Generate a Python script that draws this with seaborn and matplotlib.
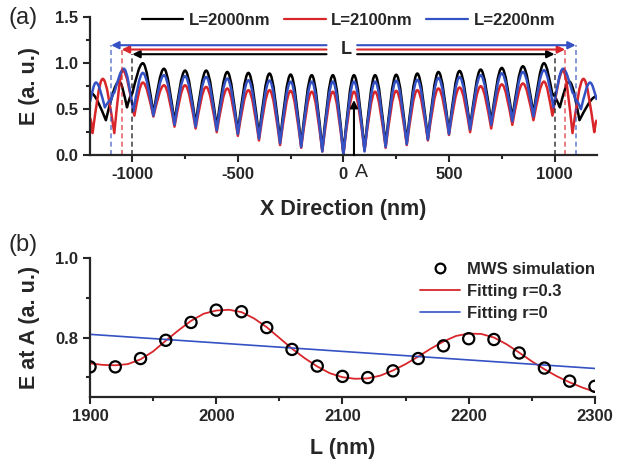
import matplotlib
matplotlib.use('Agg')
import matplotlib.pyplot as plt
import seaborn as sns
import pandas as pd
from matplotlib.ticker import MultipleLocator, FormatStrFormatter
from matplotlib.lines import Line2D
from matplotlib.path import Path
from matplotlib.patches import PathPatch

sns.set_style('ticks')
plt.rcParams['font.family'] = ['Liberation Sans', 'DejaVu Sans']
plt.rcParams['font.weight'] = 'bold'
plt.rcParams['axes.labelweight'] = 'bold'
plt.rcParams['axes.unicode_minus'] = False

# ---------------- panel (a) data: field along x (peaks/troughs)
lengths = [2000, 2100, 2200]
names = ['L=2000nm', 'L=2100nm', 'L=2200nm']
colors = ['#000000', '#d8262b', '#3552c4']

x_inner = list(range(-950, 951, 50))   # peak at -950, trough at -900, ...

black_inner = [1.00, 0.45, 0.94, 0.36, 0.92, 0.34, 0.92, 0.30, 0.905, 0.25,
               0.895, 0.21, 0.888, 0.16, 0.877, 0.11, 0.87, 0.06, 0.87, 0.02,
               0.87, 0.06, 0.87, 0.11, 0.875, 0.14, 0.888, 0.18, 0.905, 0.25,
               0.916, 0.30, 0.931, 0.36, 0.949, 0.40, 0.967, 0.45, 1.00]
red_inner = [0.79, 0.42, 0.76, 0.31, 0.76, 0.29, 0.742, 0.25, 0.725, 0.21,
             0.707, 0.16, 0.707, 0.11, 0.70, 0.08, 0.69, 0.04, 0.69, 0.01,
             0.69, 0.05, 0.69, 0.08, 0.70, 0.11, 0.707, 0.16, 0.725, 0.22,
             0.736, 0.25, 0.75, 0.29, 0.77, 0.33, 0.78, 0.38, 0.80]
blue_inner = [0.895, 0.43, 0.87, 0.33, 0.86, 0.31, 0.851, 0.27, 0.833, 0.23,
              0.815, 0.18, 0.812, 0.13, 0.80, 0.09, 0.80, 0.04, 0.80, 0.00,
              0.80, 0.04, 0.80, 0.09, 0.81, 0.12, 0.82, 0.17, 0.84, 0.23,
              0.85, 0.28, 0.87, 0.33, 0.89, 0.37, 0.905, 0.42, 0.925]

black_left_x = [-1200, -1125, -1062, -1025, -1000]
black_left_y = [0.68, 0.38, 0.80, 0.52, 0.67]
black_right_x = [990, 1025, 1070, 1118, 1200]
black_right_y = [0.66, 0.52, 0.80, 0.38, 0.64]

red_left_x = [-1200, -1188, -1140, -1085, -1045, -990]
red_left_y = [0.40, 0.24, 0.83, 0.24, 0.92, 0.43]
red_right_x = [990, 1040, 1085, 1137, 1188, 1200]
red_right_y = [0.43, 0.92, 0.24, 0.83, 0.25, 0.38]

blue_left_x = [-1200, -1172, -1130, -1100, -1085, -1040, -995]
blue_left_y = [0.58, 0.79, 0.52, 0.60, 0.68, 0.94, 0.48]
blue_right_x = [995, 1040, 1085, 1100, 1125, 1168, 1200]
blue_right_y = [0.52, 0.94, 0.68, 0.60, 0.50, 0.79, 0.60]

# ---------------- panel (b) data
L_sim = list(range(1900, 2301, 20))
E_sim = [0.726, 0.726, 0.747, 0.793, 0.838, 0.869, 0.865, 0.825, 0.770, 0.728,
         0.702, 0.699, 0.716, 0.747, 0.779, 0.797, 0.795, 0.761, 0.723, 0.690, 0.677]

L_fit = list(range(1900, 2301, 10))
E_fit03 = [0.735, 0.731, 0.730, 0.733, 0.745, 0.765, 0.792, 0.818, 0.842, 0.860,
           0.868, 0.870, 0.864, 0.848, 0.826, 0.799, 0.772, 0.748, 0.727, 0.710,
           0.700, 0.696, 0.697, 0.704, 0.717, 0.733, 0.752, 0.772, 0.790, 0.804,
           0.810, 0.809, 0.800, 0.783, 0.762, 0.740, 0.720, 0.702, 0.687, 0.674, 0.663]
L_lin = [1900, 2300]
E_fit0 = [0.808, 0.722]

curves = [
    (black_left_x + x_inner + black_right_x, black_left_y + black_inner + black_right_y),
    (red_left_x + x_inner + red_right_x, red_left_y + red_inner + red_right_y),
    (blue_left_x + x_inner + blue_right_x, blue_left_y + blue_inner + blue_right_y),
]
df_a = pd.concat([pd.DataFrame({'x': xs, 'E': ys, 'curve': n})
                  for n, (xs, ys) in zip(names, curves)], ignore_index=True)


def wave_path(xs, ys, k=0.45):
    # bezier segments between the extrema: sharp at the low end, round at the top
    verts = [(xs[0], ys[0])]
    codes = [Path.MOVETO]
    for x0, y0, x1, y1 in zip(xs[:-1], ys[:-1], xs[1:], ys[1:]):
        dx, dy = x1 - x0, y1 - y0
        if dy >= 0:
            c1, c2 = (x0 + dx / 3, y0 + dy * k), (x0 + 2 * dx / 3, y1)
        else:
            c1, c2 = (x0 + dx / 3, y0), (x0 + 2 * dx / 3, y1 - dy * k)
        verts += [c1, c2, (x1, y1)]
        codes += [Path.CURVE4] * 3
    return Path(verts, codes)


fig = plt.figure(figsize=(6.21, 4.66), dpi=100)
ax1 = fig.add_axes([0.145, 0.667, 0.816, 0.296])
ax2 = fig.add_axes([0.145, 0.148, 0.813, 0.298])

for (name, grp), c in zip(df_a.groupby('curve', sort=False), colors):
    ax1.add_patch(PathPatch(wave_path(grp['x'].tolist(), grp['E'].tolist()),
                            fill=False, edgecolor=c, lw=1.8, joinstyle='round'))

# cavity length arrows + dashed markers
arrow_y = [1.098, 1.149, 1.196]
for L, c, h in zip(lengths, colors, arrow_y):
    half = L / 2
    ax1.plot([-half, -half], [0, h], ls=(0, (3, 2)), color=c, lw=1.2, alpha=0.7)
    ax1.plot([half, half], [0, h], ls=(0, (3, 2)), color=c, lw=1.2, alpha=0.7)
    ax1.annotate('', xy=(-half, h), xytext=(-80, h),
                 arrowprops=dict(arrowstyle='-|>', color=c, lw=1.5, mutation_scale=11,
                                 shrinkA=0, shrinkB=0))
    ax1.annotate('', xy=(half, h), xytext=(65, h),
                 arrowprops=dict(arrowstyle='-|>', color=c, lw=1.5, mutation_scale=11,
                                 shrinkA=0, shrinkB=0))
ax1.text(12, 1.152, 'L', ha='center', va='center', fontsize=13, fontweight='bold')
ax1.annotate('', xy=(50, 0.6), xytext=(50, 0),
             arrowprops=dict(arrowstyle='-|>', color='black', lw=1.5, mutation_scale=11,
                             shrinkA=0, shrinkB=0))
ax1.text(85, -0.19, 'A', ha='center', va='center', fontsize=14, fontweight='normal')

ax1.set_xlim(-1200, 1200)
ax1.set_ylim(0, 1.5)
ax1.xaxis.set_major_locator(MultipleLocator(500))
ax1.xaxis.set_minor_locator(MultipleLocator(250))
ax1.yaxis.set_major_locator(MultipleLocator(0.5))
ax1.yaxis.set_minor_locator(MultipleLocator(0.25))
ax1.yaxis.set_major_formatter(FormatStrFormatter('%.1f'))
ax1.set_xlabel('X Direction (nm)', fontsize=15.5, labelpad=12)
ax1.set_ylabel('E (a. u.)', fontsize=15.5, labelpad=11)

handles_a = [Line2D([], [], color=c, lw=1.6) for c in colors]
ax1.legend(handles_a, names, loc='center', bbox_to_anchor=(0.51, 0.975), ncol=3,
           frameon=False, fontsize=12, handlelength=2.5, handletextpad=0.35,
           columnspacing=0.8, borderaxespad=0, borderpad=0)

# ---------------- panel (b)
sns.lineplot(x=L_fit, y=E_fit03, color=colors[1], lw=1.3, ax=ax2)
sns.lineplot(x=L_lin, y=E_fit0, color=colors[2], lw=1.2, ax=ax2)
sns.scatterplot(x=L_sim, y=E_sim, ax=ax2, s=65, facecolor='none', edgecolor='black',
                linewidth=1.6, zorder=3)
ax2.set_xlim(1900, 2300)
ax2.set_ylim(0.65, 1.0)
ax2.xaxis.set_major_locator(MultipleLocator(100))
ax2.xaxis.set_minor_locator(MultipleLocator(50))
ax2.yaxis.set_major_locator(MultipleLocator(0.2))
ax2.yaxis.set_minor_locator(MultipleLocator(0.1))
ax2.yaxis.set_major_formatter(FormatStrFormatter('%.1f'))
ax2.set_xlabel('L (nm)', fontsize=15.5, labelpad=10)
ax2.set_ylabel('E at A (a. u.)', fontsize=15.5, labelpad=11)

handles_b = [Line2D([], [], ls='none', marker='o', mfc='none', mec='black', mew=1.6, ms=7),
             Line2D([], [], color=colors[1], lw=1.3),
             Line2D([], [], color=colors[2], lw=1.2)]
ax2.legend(handles_b, ['MWS simulation', 'Fitting r=0.3', 'Fitting r=0'],
           loc='upper right', bbox_to_anchor=(1.0, 0.975), frameon=False, fontsize=12,
           handlelength=2.4, handletextpad=0.42, labelspacing=0.42, borderpad=0,
           borderaxespad=0)

for ax in (ax1, ax2):
    sns.despine(ax=ax)
    for s in ('left', 'bottom'):
        ax.spines[s].set_linewidth(1.6)
    ax.tick_params(which='major', direction='out', length=5, width=1.5, labelsize=12)
    ax.tick_params(which='minor', direction='out', length=3, width=1.5)
    for lab in ax.get_xticklabels() + ax.get_yticklabels():
        lab.set_fontweight('bold')

fig.text(0.037, 0.962, '(a)', fontsize=17, ha='center', va='center', fontweight='normal')
fig.text(0.037, 0.474, '(b)', fontsize=17, ha='center', va='center', fontweight='normal')

fig.savefig('out.png', dpi=100)
